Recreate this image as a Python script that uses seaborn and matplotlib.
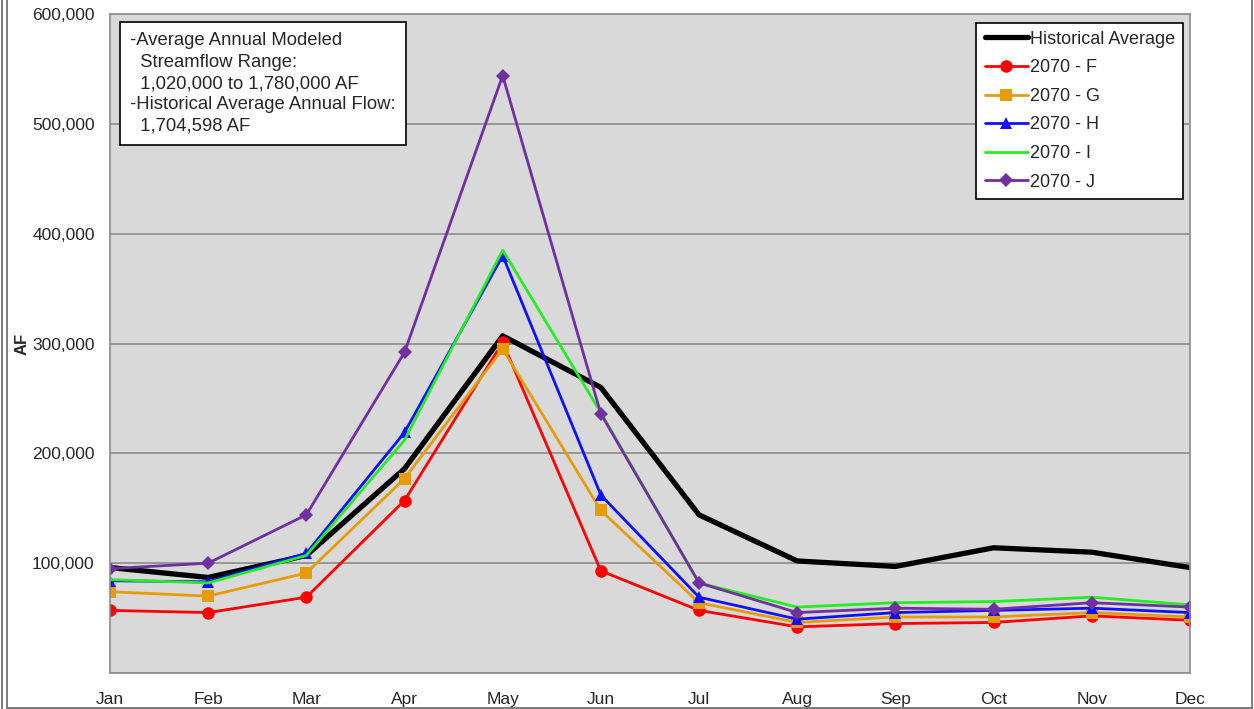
import numpy as np
import pandas as pd
import matplotlib
matplotlib.use("Agg")
import matplotlib.pyplot as plt
import seaborn as sns

months = ["Jan", "Feb", "Mar", "Apr", "May", "Jun", "Jul", "Aug", "Sep", "Oct", "Nov", "Dec"]

historical = [96000, 87000, 107000, 186000, 307000, 260000, 144000, 102000, 97000, 114000, 110000, 96000]
f_2070 = [57000, 55000, 69000, 157000, 301000, 93000, 57000, 42000, 45000, 46000, 52000, 48000]
g_2070 = [74000, 70000, 91000, 177000, 295000, 148000, 64000, 46000, 51000, 51000, 55000, 51000]
h_2070 = [84000, 83000, 109000, 219000, 380000, 162000, 69000, 49000, 55000, 57000, 59000, 55000]
i_2070 = [85000, 82000, 107000, 212000, 385000, 237000, 82000, 60000, 64000, 65000, 69000, 62000]
j_2070 = [95000, 100000, 144000, 292000, 544000, 236000, 82000, 55000, 59000, 58000, 64000, 60000]

series = [
    ("Historical Average", historical, "black", None, 3.8, 0),
    ("2070 - F", f_2070, "#FF0000", "o", 2, 9),
    ("2070 - G", g_2070, "#E69C0A", "s", 2, 9),
    ("2070 - H", h_2070, "#1010FF", "^", 2, 8),
    ("2070 - I", i_2070, "#22EE22", None, 2, 0),
    ("2070 - J", j_2070, "#7030A0", "D", 2, 7),
]

sns.set_style("white")
plt.rcParams['font.family'] = ['Liberation Sans', 'DejaVu Sans']

W, H = 1254, 709
fig = plt.figure(figsize=(W / 100, H / 100), dpi=100)
ax = fig.add_axes([0.0877, 0.0508, 0.8612, 0.9294])
ax.set_facecolor("#D9D9D9")

x = np.arange(len(months))
for name, vals, color, marker, lw, ms in series:
    df = pd.DataFrame({"month": x, "AF": vals})
    sns.lineplot(data=df, x="month", y="AF", ax=ax, color=color, linewidth=lw,
                 marker=marker, markersize=ms, markeredgewidth=0,
                 label=name)

ax.set_xlim(0, 11)
ax.set_ylim(0, 600000)
ax.set_xticks(x)
ax.set_xticklabels(months, fontsize=12.5)
yt = np.arange(0, 600001, 100000)
ax.set_yticks(yt)
ax.set_yticklabels([""] + [f"{v:,}" for v in yt[1:]], fontsize=12.5)
ax.grid(axis="y", color="#8C8C8C", linewidth=1.2)
ax.set_axisbelow(True)
for s in ax.spines.values():
    s.set_color("#8C8C8C")
    s.set_linewidth(1.2)
ax.tick_params(axis="both", direction="out", length=5, color="#8C8C8C", pad=6)
ax.tick_params(axis="x", pad=9)
ax.set_xlabel("")
ax.set_ylabel("AF", fontsize=12, fontweight="bold", labelpad=2)

# text box with the annual flow notes
note = ("-Average Annual Modeled\n  Streamflow Range:\n  1,020,000 to 1,780,000 AF\n"
        "-Historical Average Annual Flow:\n  1,704,598 AF")
ax.text(0.019, 0.972, note, transform=ax.transAxes, va="top", ha="left", fontsize=13.3,
        linespacing=1.33,
        bbox=dict(boxstyle="square,pad=0.55", facecolor="white", edgecolor="black", linewidth=1.2))

leg = ax.legend(loc="upper right", bbox_to_anchor=(0.9935, 0.987), fontsize=13, frameon=True,
                fancybox=False, handlelength=2.4, handletextpad=0.1, borderpad=0.45,
                labelspacing=0.64, borderaxespad=0)
leg.get_frame().set_edgecolor("black")
leg.get_frame().set_linewidth(1.2)
leg.get_frame().set_facecolor("white")
leg.get_frame().set_alpha(1)

# outer frame lines of the chart object
frame = dict(transform=fig.transFigure, color="#666666", linewidth=1.2)
fig.add_artist(plt.Line2D([1.5 / W, 1.5 / W], [0, 1], **frame))
fig.add_artist(plt.Line2D([6.5 / W, 6.5 / W], [1.5 / H, 1], **frame))
fig.add_artist(plt.Line2D([6.5 / W, 1251.5 / W], [1.5 / H, 1.5 / H], **frame))
fig.add_artist(plt.Line2D([1251.5 / W, 1251.5 / W], [1.5 / H, 1], **frame))

fig.savefig("out.png", dpi=100)
